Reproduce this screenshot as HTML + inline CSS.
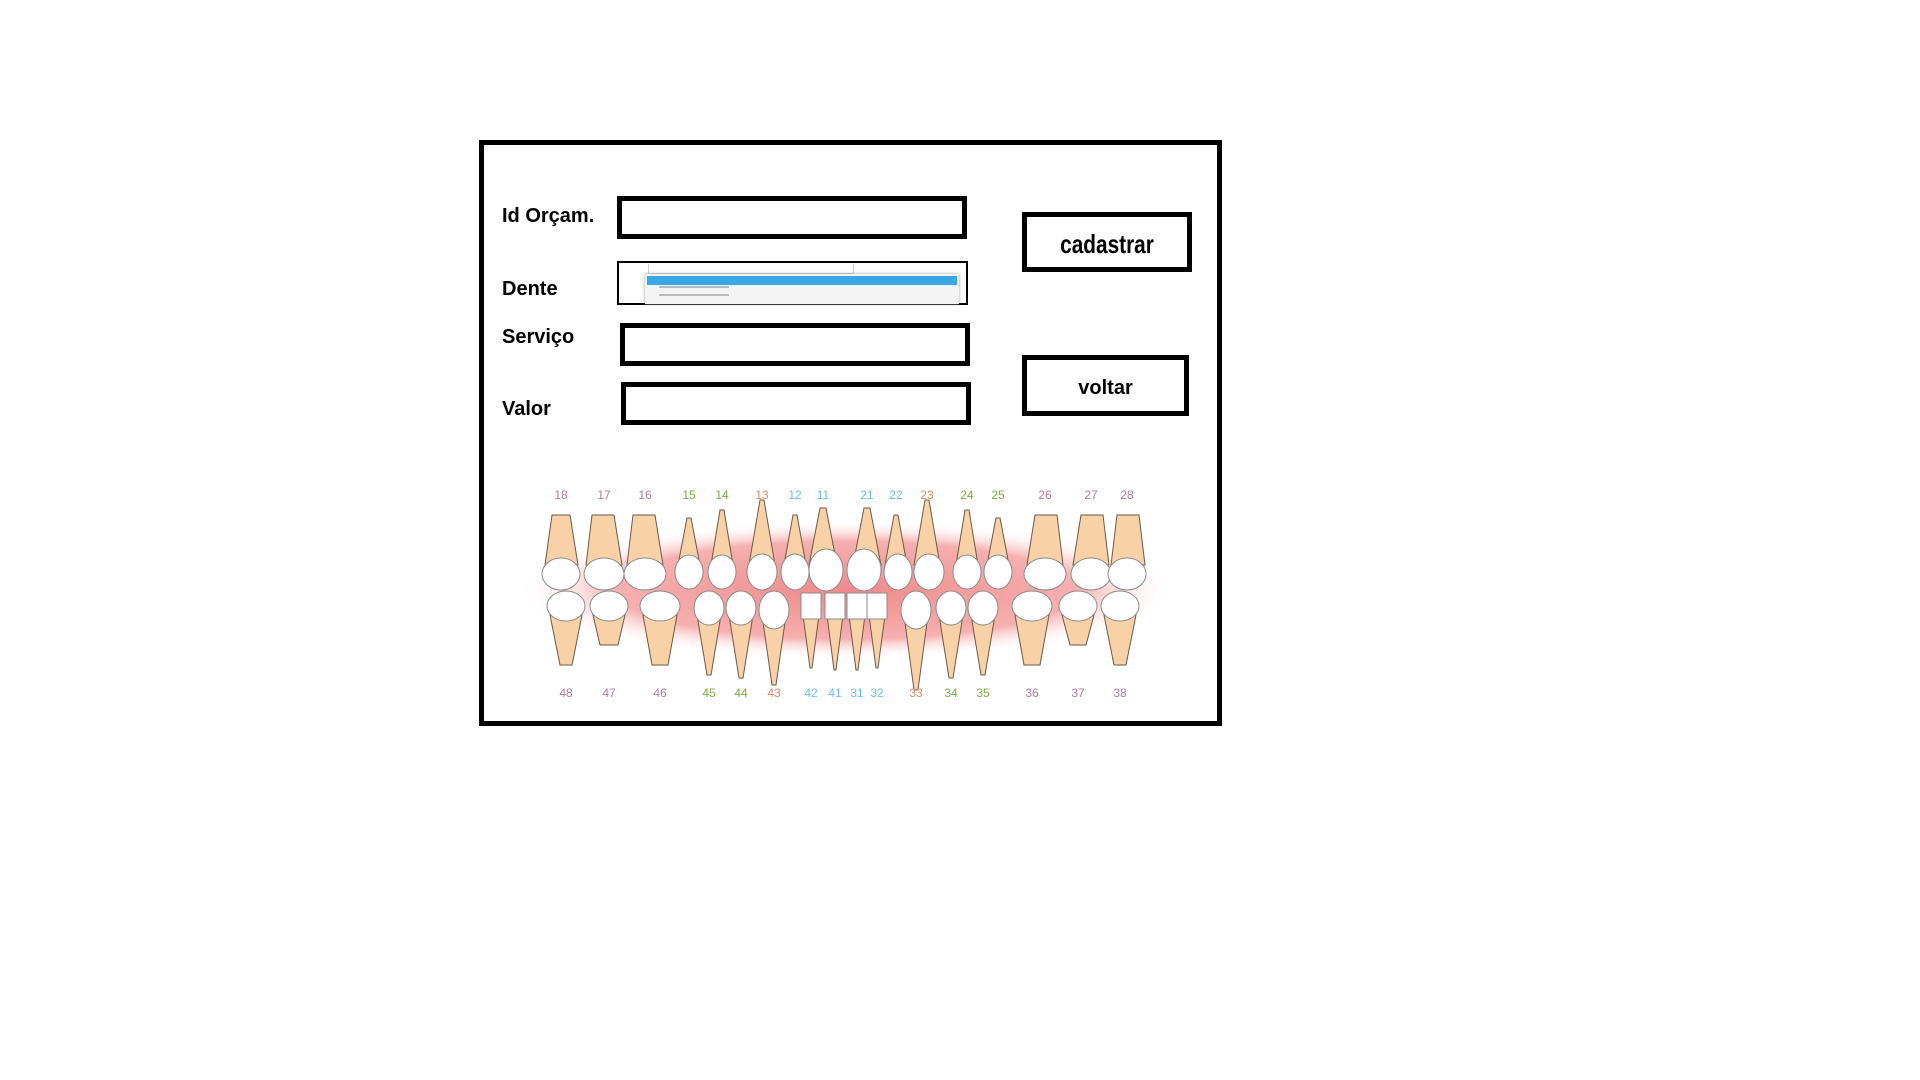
<!DOCTYPE html>
<html><head><meta charset="utf-8"><style>
body{margin:0;width:1920px;height:1080px;background:#fff;position:relative;overflow:hidden;font-family:"Liberation Sans",sans-serif}
.b{position:absolute;box-sizing:border-box;border:5px solid #000;background:#fff}
.l{position:absolute;font-weight:bold;font-size:20px;color:#000;line-height:1}
.t{position:absolute;font-weight:bold;color:#000;text-align:center;width:100%;line-height:1}
</style></head><body>
<div class="b" style="left:479px;top:140px;width:743px;height:586px"></div>
<div class="l" style="left:502px;top:206px">Id Orçam.</div>
<div class="l" style="left:502px;top:279px">Dente</div>
<div class="l" style="left:502px;top:327px">Serviço</div>
<div class="l" style="left:502px;top:399px">Valor</div>
<div class="b" style="left:617px;top:196px;width:350px;height:43px"></div>
<div class="b" style="left:617px;top:261px;width:351px;height:44px;border-width:2px">
 <div style="position:absolute;left:29px;top:1px;width:204px;height:9px;border:1px solid #ccc;border-top:none"></div>
 <div style="position:absolute;left:26px;top:11px;width:314px;height:30px;background:#f4f4f4;box-shadow:0 0 3px #999"></div>
 <div style="position:absolute;left:28px;top:13px;width:310px;height:9px;background:#3aa6e6"></div>
 <div style="position:absolute;left:40px;top:23px;width:70px;height:2px;background:#bbb"></div>
 <div style="position:absolute;left:40px;top:31px;width:70px;height:2px;background:#bbb"></div>
</div>
<div class="b" style="left:620px;top:323px;width:350px;height:43px"></div>
<div class="b" style="left:621px;top:382px;width:350px;height:43px"></div>
<div class="b" style="left:1022px;top:212px;width:170px;height:60px"><div class="t" style="top:14px;font-size:26px;transform:scaleX(.8)">cadastrar</div></div>
<div class="b" style="left:1022px;top:355px;width:167px;height:61px"><div class="t" style="top:18px;font-size:20px">voltar</div></div>
<svg style="position:absolute;left:0;top:0" width="1920" height="1080">
<defs><radialGradient id="g" cx="50%" cy="50%" r="50%"><stop offset="0" stop-color="#f08a8a"/><stop offset=".7" stop-color="#f6b0b0"/><stop offset="1" stop-color="#fff" stop-opacity="0"/></radialGradient></defs>
<ellipse cx="847" cy="590" rx="330" ry="70" fill="url(#g)"/>
<g stroke="#6a5a4a" stroke-width="1" fill="#f8d2a6">
<polygon points="545,565 552,515 570,515 578,565"/><polygon points="586,565 592,515 614,515 622,565"/><polygon points="627,565 633,515 655,515 663,565"/>
<polygon points="678,565 687,518 691,518 700,565"/><polygon points="711,565 720,510 724,510 733,565"/><polygon points="749,565 760,500 764,500 775,565"/>
<polygon points="784,565 793,515 797,515 806,565"/><polygon points="809,565 820,508 826,508 837,565"/><polygon points="853,565 864,508 870,508 881,565"/>
<polygon points="885,565 894,515 898,515 907,565"/><polygon points="914,565 925,500 929,500 940,565"/><polygon points="956,565 965,510 969,510 978,565"/>
<polygon points="987,565 996,518 1000,518 1009,565"/><polygon points="1027,565 1035,515 1057,515 1063,565"/><polygon points="1073,565 1081,515 1103,515 1109,565"/><polygon points="1111,565 1117,515 1139,515 1145,565"/>
<polygon points="550,615 560,665 572,665 582,615"/><polygon points="593,615 600,645 618,645 625,615"/><polygon points="643,615 652,665 668,665 677,615"/>
<polygon points="697,615 707,675 711,675 721,615"/><polygon points="729,615 739,678 743,678 753,615"/><polygon points="762,615 772,685 776,685 786,615"/>
<polygon points="803,615 810,668 812,668 819,615"/><polygon points="827,615 834,670 836,670 843,615"/><polygon points="849,615 856,670 858,670 865,615"/><polygon points="869,615 876,668 878,668 885,615"/>
<polygon points="904,615 914,690 918,690 928,615"/><polygon points="939,615 949,678 953,678 963,615"/><polygon points="971,615 981,675 985,675 995,615"/>
<polygon points="1015,615 1024,665 1040,665 1049,615"/><polygon points="1062,615 1070,645 1086,645 1094,615"/><polygon points="1104,615 1114,665 1126,665 1136,615"/>
</g>
<g fill="#fff" stroke="#8a8a8a" stroke-width="1">
<ellipse cx="561" cy="574" rx="19" ry="16"/><ellipse cx="604" cy="574" rx="20" ry="16"/><ellipse cx="645" cy="574" rx="21" ry="16"/>
<ellipse cx="689" cy="572" rx="14" ry="17"/><ellipse cx="722" cy="572" rx="14" ry="17"/><ellipse cx="762" cy="572" rx="15" ry="18"/>
<ellipse cx="795" cy="572" rx="14" ry="18"/><ellipse cx="826" cy="570" rx="17" ry="21"/><ellipse cx="864" cy="570" rx="17" ry="21"/>
<ellipse cx="898" cy="572" rx="14" ry="18"/><ellipse cx="929" cy="572" rx="15" ry="18"/><ellipse cx="967" cy="572" rx="14" ry="17"/>
<ellipse cx="998" cy="572" rx="14" ry="17"/><ellipse cx="1045" cy="574" rx="21" ry="16"/><ellipse cx="1091" cy="574" rx="20" ry="16"/><ellipse cx="1127" cy="574" rx="19" ry="16"/>
<ellipse cx="566" cy="606" rx="19" ry="15"/><ellipse cx="609" cy="606" rx="19" ry="15"/><ellipse cx="660" cy="606" rx="20" ry="15"/>
<ellipse cx="709" cy="608" rx="15" ry="17"/><ellipse cx="741" cy="608" rx="15" ry="17"/><ellipse cx="774" cy="610" rx="15" ry="19"/>
<rect x="801" y="593" width="20" height="26"/><rect x="825" y="593" width="20" height="26"/><rect x="847" y="593" width="20" height="26"/><rect x="867" y="593" width="20" height="26"/>
<ellipse cx="916" cy="610" rx="15" ry="19"/><ellipse cx="951" cy="608" rx="15" ry="17"/><ellipse cx="983" cy="608" rx="15" ry="17"/>
<ellipse cx="1032" cy="606" rx="20" ry="15"/><ellipse cx="1078" cy="606" rx="19" ry="15"/><ellipse cx="1120" cy="606" rx="19" ry="15"/>
</g>
<g font-family="Liberation Sans,sans-serif" font-size="12" text-anchor="middle">
<g fill="#b07a9a"><text x="561" y="499">18</text><text x="604" y="499">17</text><text x="645" y="499">16</text><text x="1045" y="499">26</text><text x="1091" y="499">27</text><text x="1127" y="499">28</text>
<text x="566" y="697">48</text><text x="609" y="697">47</text><text x="660" y="697">46</text><text x="1032" y="697">36</text><text x="1078" y="697">37</text><text x="1120" y="697">38</text></g>
<g fill="#7ab040"><text x="689" y="499">15</text><text x="722" y="499">14</text><text x="967" y="499">24</text><text x="998" y="499">25</text>
<text x="709" y="697">45</text><text x="741" y="697">44</text><text x="951" y="697">34</text><text x="983" y="697">35</text></g>
<g fill="#e08a60"><text x="762" y="499">13</text><text x="927" y="499">23</text><text x="774" y="697">43</text><text x="916" y="697">33</text></g>
<g fill="#6cc0d8"><text x="795" y="499">12</text><text x="823" y="499">11</text><text x="867" y="499">21</text><text x="896" y="499">22</text>
<text x="811" y="697">42</text><text x="835" y="697">41</text><text x="857" y="697">31</text><text x="877" y="697">32</text></g>
</g>
</svg>
</body></html>
